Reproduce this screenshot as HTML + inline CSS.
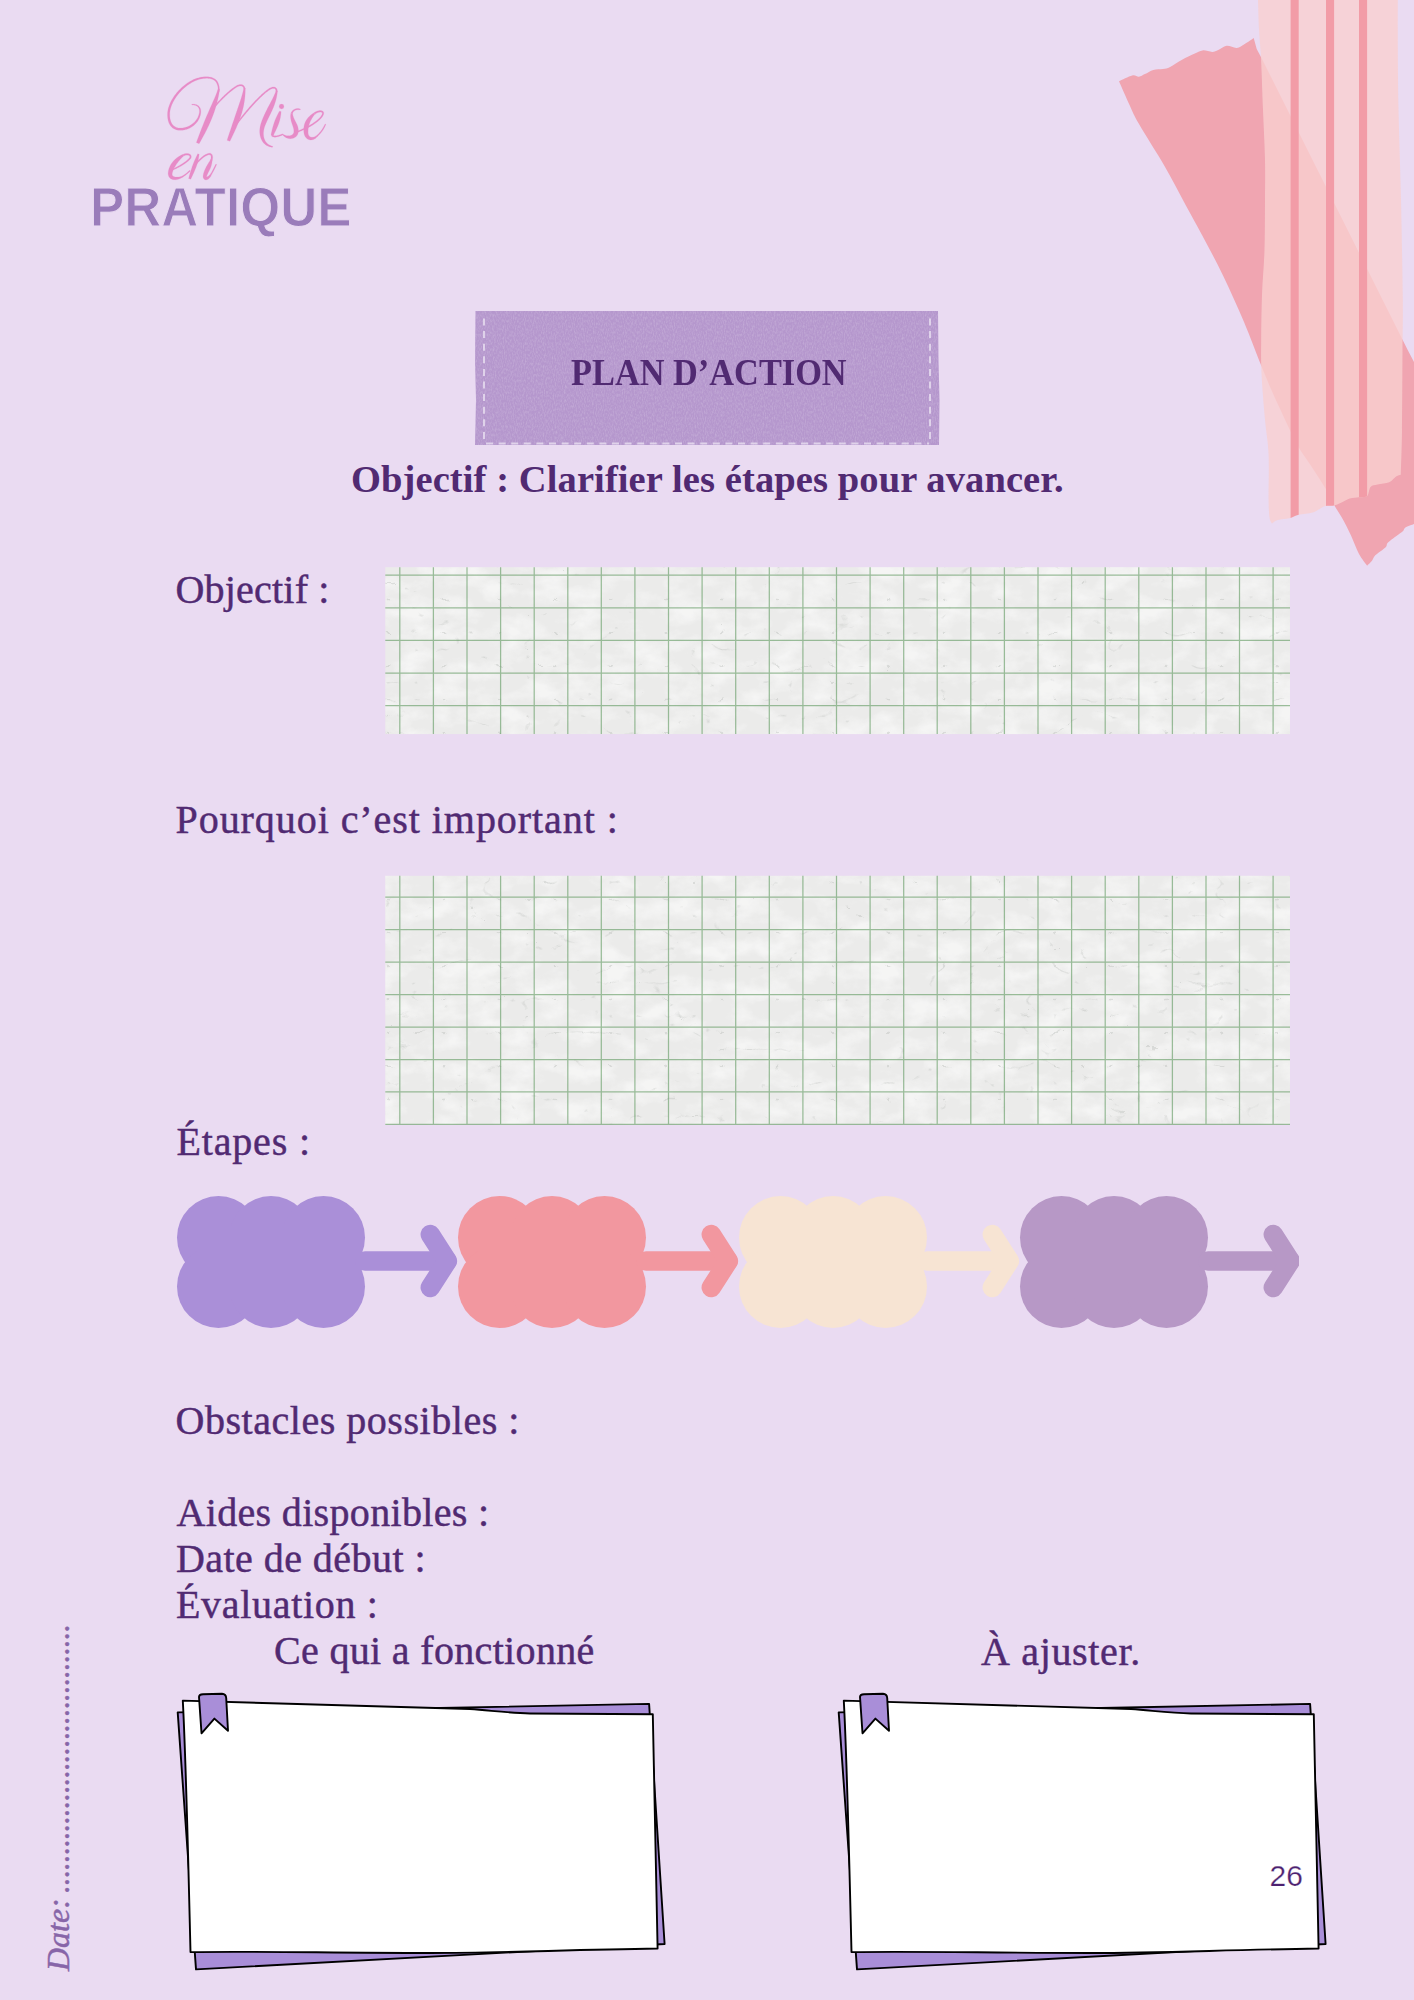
<!DOCTYPE html>
<html>
<head>
<meta charset="utf-8">
<style>
html,body{margin:0;padding:0;}
body{width:1414px;height:2000px;background:#eadbf2;position:relative;overflow:hidden;font-family:"Liberation Serif",serif;color:#512a72;}
.t{position:absolute;white-space:nowrap;line-height:1;}
.body40{font-size:40px;-webkit-text-stroke:0.45px #512a72;}
.grid{position:absolute;left:385px;width:905px;background-color:#ebebea;
 background-image:
  linear-gradient(90deg, rgba(120,180,120,0.75) 0 2px, transparent 2px),
  linear-gradient(0deg, rgba(120,180,120,0.75) 0 2px, transparent 2px);
 background-size:33.59px 32.7px;}
</style>
</head>
<body>

<!-- top-right tapes -->
<svg style="position:absolute;left:0;top:0" width="1414" height="600" viewBox="0 0 1414 600">
  <defs><clipPath id="lt"><path d="M1258.0,0.0 C1258.2,4.8 1258.5,19.3 1259.0,29.0 C1259.5,38.7 1260.3,44.5 1261.0,58.0 C1261.7,71.5 1262.3,93.0 1263.0,110.0 C1263.7,127.0 1264.7,145.0 1265.0,160.0 C1265.3,175.0 1265.1,185.0 1265.0,200.0 C1264.9,215.0 1265.0,234.2 1264.5,250.0 C1264.0,265.8 1262.5,280.0 1262.0,295.0 C1261.5,310.0 1261.3,327.0 1261.2,340.0 C1261.1,353.0 1260.9,359.7 1261.5,373.0 C1262.1,386.3 1263.8,406.0 1265.0,419.6 C1266.2,433.2 1268.0,440.9 1268.6,454.4 C1269.2,467.9 1268.4,490.2 1268.6,500.8 C1268.8,511.4 1269.1,514.4 1269.7,518.2 C1270.3,522.0 1271.6,522.5 1272.0,523.4 L1272.0,523.4 C1273.0,522.8 1274.9,520.8 1277.8,519.9 C1280.7,519.0 1285.9,519.1 1289.4,518.2 C1292.9,517.3 1294.8,515.7 1298.7,514.7 C1302.6,513.7 1309.1,513.4 1312.6,512.4 C1316.1,511.4 1317.5,510.0 1319.6,508.9 C1321.7,507.8 1323.0,506.6 1325.4,506.0 C1327.8,505.4 1331.5,506.0 1334.0,505.5 C1336.5,505.0 1337.9,504.3 1340.5,503.1 C1343.1,501.9 1346.6,499.5 1349.7,498.5 C1352.8,497.5 1356.1,497.7 1359.0,497.3 C1361.9,496.9 1365.2,497.8 1367.1,496.1 C1369.0,494.4 1368.8,488.8 1370.6,486.9 C1372.3,485.0 1374.5,485.3 1377.6,484.5 C1380.7,483.7 1386.1,483.6 1389.2,482.2 C1392.3,480.8 1394.2,477.6 1396.1,476.4 C1398.0,475.1 1400.0,475.0 1400.8,474.7 L1400.8,474.7 C1401.0,467.4 1401.7,451.8 1402.0,431.0 C1402.3,410.2 1402.4,371.8 1402.5,350.0 C1402.6,328.2 1403.0,325.0 1402.8,300.0 C1402.5,275.0 1401.7,231.7 1401.0,200.0 C1400.3,168.3 1399.0,135.0 1398.5,110.0 C1398.0,85.0 1397.9,68.3 1397.8,50.0 C1397.7,31.7 1397.8,8.3 1397.8,0.0 Z"/></clipPath></defs>
  <path d="M1119.0,81.3 C1121.2,80.3 1128.9,76.3 1132.2,75.5 C1135.5,74.7 1136.8,76.9 1138.9,76.7 C1141.0,76.5 1142.5,75.2 1144.9,74.1 C1147.3,73.0 1150.3,70.7 1153.3,69.9 C1156.3,69.1 1160.1,69.6 1162.9,69.1 C1165.7,68.6 1166.9,68.5 1170.1,66.9 C1173.3,65.3 1178.1,61.9 1182.1,59.7 C1186.1,57.5 1190.8,55.2 1194.2,53.7 C1197.6,52.2 1199.6,50.7 1202.6,50.4 C1205.6,50.1 1209.6,51.9 1212.2,51.9 C1214.8,51.9 1215.8,51.1 1218.2,50.1 C1220.6,49.1 1223.5,46.2 1226.6,45.8 C1229.7,45.4 1233.8,48.2 1236.8,47.9 C1239.8,47.6 1241.9,45.6 1244.7,44.0 C1247.5,42.4 1252.2,39.0 1253.7,38.0 L1256.7,48.9 L1261,57 L1407.7,350 L1414,362 L1414,524 L1414.0,524.0 C1412.6,524.6 1407.2,526.3 1405.4,527.5 C1403.6,528.7 1404.2,529.9 1403.1,531.0 C1401.9,532.1 1401.0,532.5 1398.5,534.4 C1396.0,536.3 1390.1,540.4 1388.0,542.5 C1385.9,544.6 1387.8,545.1 1385.7,547.2 C1383.6,549.3 1377.6,553.0 1375.3,555.3 C1373.0,557.6 1373.2,559.4 1371.8,561.1 C1370.4,562.8 1367.9,564.9 1367.1,565.7 L1367.1,565.7 C1365.8,563.8 1361.7,559.1 1359.0,554.1 C1356.3,549.1 1353.7,541.4 1351.0,535.6 C1348.3,529.8 1345.5,524.2 1342.8,519.3 C1340.1,514.4 1337.5,511.0 1334.7,506.0 C1331.9,501.0 1330.1,496.1 1326.0,489.2 C1321.9,482.3 1314.8,471.8 1310.3,464.8 C1305.8,457.8 1302.2,453.4 1298.7,447.4 C1295.2,441.4 1293.7,437.8 1289.4,428.9 C1285.2,420.0 1277.9,404.6 1273.2,394.0 C1268.5,383.4 1265.9,377.0 1261.0,365.0 C1256.1,353.0 1250.3,336.9 1244.0,322.0 C1237.7,307.1 1230.0,289.9 1223.0,275.4 C1216.0,260.9 1208.5,247.2 1202.0,235.0 C1195.5,222.8 1190.2,213.5 1184.0,202.0 C1177.8,190.5 1172.0,179.0 1164.5,166.0 C1157.0,153.0 1144.8,134.0 1139.0,124.0 C1133.2,114.0 1133.3,113.1 1130.0,106.0 C1126.7,98.9 1120.8,85.4 1119.0,81.3 Z" fill="#f0a5b1"/>
  <path d="M1258.0,0.0 C1258.2,4.8 1258.5,19.3 1259.0,29.0 C1259.5,38.7 1260.3,44.5 1261.0,58.0 C1261.7,71.5 1262.3,93.0 1263.0,110.0 C1263.7,127.0 1264.7,145.0 1265.0,160.0 C1265.3,175.0 1265.1,185.0 1265.0,200.0 C1264.9,215.0 1265.0,234.2 1264.5,250.0 C1264.0,265.8 1262.5,280.0 1262.0,295.0 C1261.5,310.0 1261.3,327.0 1261.2,340.0 C1261.1,353.0 1260.9,359.7 1261.5,373.0 C1262.1,386.3 1263.8,406.0 1265.0,419.6 C1266.2,433.2 1268.0,440.9 1268.6,454.4 C1269.2,467.9 1268.4,490.2 1268.6,500.8 C1268.8,511.4 1269.1,514.4 1269.7,518.2 C1270.3,522.0 1271.6,522.5 1272.0,523.4 L1272.0,523.4 C1273.0,522.8 1274.9,520.8 1277.8,519.9 C1280.7,519.0 1285.9,519.1 1289.4,518.2 C1292.9,517.3 1294.8,515.7 1298.7,514.7 C1302.6,513.7 1309.1,513.4 1312.6,512.4 C1316.1,511.4 1317.5,510.0 1319.6,508.9 C1321.7,507.8 1323.0,506.6 1325.4,506.0 C1327.8,505.4 1331.5,506.0 1334.0,505.5 C1336.5,505.0 1337.9,504.3 1340.5,503.1 C1343.1,501.9 1346.6,499.5 1349.7,498.5 C1352.8,497.5 1356.1,497.7 1359.0,497.3 C1361.9,496.9 1365.2,497.8 1367.1,496.1 C1369.0,494.4 1368.8,488.8 1370.6,486.9 C1372.3,485.0 1374.5,485.3 1377.6,484.5 C1380.7,483.7 1386.1,483.6 1389.2,482.2 C1392.3,480.8 1394.2,477.6 1396.1,476.4 C1398.0,475.1 1400.0,475.0 1400.8,474.7 L1400.8,474.7 C1401.0,467.4 1401.7,451.8 1402.0,431.0 C1402.3,410.2 1402.4,371.8 1402.5,350.0 C1402.6,328.2 1403.0,325.0 1402.8,300.0 C1402.5,275.0 1401.7,231.7 1401.0,200.0 C1400.3,168.3 1399.0,135.0 1398.5,110.0 C1398.0,85.0 1397.9,68.3 1397.8,50.0 C1397.7,31.7 1397.8,8.3 1397.8,0.0 Z" fill="#f9d0d0" opacity="0.8"/>
  <g clip-path="url(#lt)" fill="#f29ca7">
    <rect x="1290.6" y="0" width="8.1" height="600"/>
    <rect x="1326" y="0" width="8.1" height="600"/>
    <rect x="1359" y="0" width="8.1" height="600"/>
  </g>
</svg>

<!-- logo -->
<svg style="position:absolute;left:0;top:0" width="420" height="260" viewBox="0 0 420 260">
 <g transform="translate(160,70) scale(0.12729)" fill="#e78bc7" stroke="#e78bc7" stroke-width="1.5" stroke-linejoin="round">
  <path d="M250.2,275.0 L253.8,274.9 L257.3,274.9 L260.7,275.0 L264.0,275.3 L267.2,275.6 L270.2,276.1 L273.2,276.7 L276.0,277.4 L278.7,278.2 L281.3,279.2 L283.8,280.2 L286.2,281.3 L288.4,282.6 L290.5,283.9 L292.6,285.3 L294.5,286.8 L296.3,288.4 L297.9,290.0 L299.5,291.8 L301.0,293.6 L302.3,295.6 L303.6,297.6 L304.7,299.7 L305.7,301.9 L306.6,304.2 L307.4,306.5 L308.1,309.0 L308.7,311.5 L309.1,314.1 L309.5,316.9 L309.7,319.6 L309.8,322.5 L309.8,325.5 L309.6,328.5 L309.3,331.7 L308.9,334.9 L308.4,338.1 L307.7,341.5 L306.9,344.9 L305.9,348.5 L304.5,353.5 L302.9,358.3 L301.1,363.0 L299.1,367.6 L297.0,372.2 L294.8,376.6 L292.3,380.9 L289.8,385.1 L287.0,389.2 L284.2,393.2 L281.2,397.1 L278.1,400.9 L274.9,404.6 L271.5,408.1 L268.0,411.6 L264.5,414.9 L260.8,418.1 L257.0,421.2 L253.1,424.2 L249.2,427.1 L245.1,429.8 L241.0,432.4 L236.8,434.9 L232.6,437.2 L228.3,439.5 L223.9,441.5 L219.5,443.5 L215.0,445.3 L210.5,447.0 L206.0,448.5 L201.4,449.9 L196.9,451.2 L192.3,452.3 L187.6,453.3 L183.0,454.1 L178.4,454.8 L173.8,455.3 L169.2,455.7 L164.6,455.9 L160.0,456.0 L155.5,455.9 L151.2,455.7 L147.1,455.2 L143.0,454.7 L139.2,453.9 L135.4,453.0 L131.8,452.0 L128.3,450.8 L125.0,449.4 L121.8,447.9 L118.7,446.3 L115.7,444.6 L112.8,442.7 L110.1,440.6 L107.4,438.5 L104.9,436.1 L102.5,433.7 L100.2,431.1 L98.0,428.4 L95.8,425.5 L93.8,422.5 L91.9,419.3 L90.2,416.1 L88.5,412.6 L86.9,409.1 L85.4,405.4 L84.1,401.5 L82.8,397.6 L81.7,393.5 L80.6,389.2 L79.7,384.9 L78.9,380.4 L78.3,375.8 L77.7,371.1 L77.2,366.2 L76.9,361.3 L76.7,356.2 L76.6,351.0 L76.6,345.7 L76.8,340.4 L77.2,334.0 L77.9,327.4 L78.9,320.8 L80.2,314.0 L81.7,307.1 L83.6,300.2 L85.7,293.2 L88.1,286.1 L90.7,279.0 L93.6,271.8 L96.8,264.6 L100.2,257.3 L103.9,250.1 L107.7,242.9 L111.9,235.6 L116.2,228.4 L120.8,221.2 L125.6,214.1 L130.5,207.0 L135.7,199.9 L141.1,193.0 L146.7,186.1 L152.5,179.3 L158.4,172.6 L164.5,166.0 L170.8,159.5 L177.2,153.2 L183.8,146.9 L190.6,140.9 L197.5,135.0 L204.5,129.2 L211.7,123.6 L218.9,118.2 L226.3,113.0 L233.9,108.0 L241.5,103.3 L249.2,98.7 L257.0,94.4 L264.9,90.3 L272.9,86.4 L277.9,84.3 L283.1,82.3 L288.2,80.3 L293.4,78.5 L298.6,76.7 L303.9,75.1 L309.1,73.6 L314.3,72.3 L319.5,71.0 L324.7,69.9 L329.8,68.9 L335.0,68.0 L340.1,67.3 L345.1,66.6 L350.2,66.1 L355.1,65.8 L360.0,65.5 L364.8,65.4 L369.6,65.5 L374.3,65.6 L378.8,65.9 L383.3,66.4 L387.7,67.0 L392.0,67.7 L396.2,68.5 L400.3,69.5 L404.2,70.6 L408.0,71.9 L411.7,73.3 L415.3,74.8 L418.7,76.5 L421.9,78.3 L425.0,80.3 L427.9,82.3 L430.7,84.6 L433.4,86.9 L435.8,89.5 L438.1,92.1 L440.2,94.9 L442.2,97.9 L443.1,99.6 L444.2,101.6 L445.1,103.5 L446.0,105.4 L446.9,107.3 L447.7,109.3 L448.5,111.2 L449.2,113.1 L449.9,115.0 L450.6,117.0 L451.2,118.9 L451.8,120.8 L452.3,122.7 L452.8,124.6 L453.3,126.5 L453.7,128.4 L454.1,130.3 L454.4,132.1 L454.7,134.0 L455.0,135.8 L455.3,137.7 L455.5,139.5 L455.7,141.3 L455.8,143.1 L456.0,144.9 L456.1,146.7 L456.1,148.4 L456.2,150.1 L456.2,151.9 L456.2,153.6 L456.2,155.2 L456.1,156.9 L456.1,158.5 L456.0,160.1 L455.9,161.7 L455.7,163.3 L455.6,164.8 L455.4,166.3 L455.3,167.8 L455.1,169.3 L464.9,170.7 L465.2,169.2 L465.4,167.6 L465.6,165.9 L465.8,164.3 L466.0,162.6 L466.1,160.8 L466.2,159.1 L466.3,157.3 L466.4,155.5 L466.5,153.7 L466.5,151.9 L466.5,150.0 L466.5,148.1 L466.4,146.2 L466.4,144.3 L466.2,142.4 L466.1,140.4 L465.9,138.4 L465.7,136.4 L465.5,134.4 L465.2,132.4 L464.9,130.3 L464.5,128.3 L464.2,126.2 L463.7,124.2 L463.3,122.1 L462.8,120.0 L462.2,117.9 L461.6,115.8 L461.0,113.6 L460.3,111.5 L459.6,109.4 L458.8,107.2 L457.9,105.1 L457.1,103.0 L456.1,100.8 L455.2,98.7 L454.1,96.5 L453.1,94.4 L451.8,92.1 L449.5,88.5 L447.0,85.1 L444.3,81.8 L441.4,78.7 L438.3,75.8 L435.0,73.1 L431.6,70.6 L428.0,68.3 L424.2,66.1 L420.3,64.1 L416.3,62.3 L412.1,60.6 L407.9,59.1 L403.5,57.8 L399.0,56.6 L394.3,55.6 L389.6,54.8 L384.8,54.1 L380.0,53.5 L375.0,53.1 L369.9,52.9 L364.8,52.7 L359.7,52.8 L354.4,52.9 L349.1,53.3 L343.8,53.7 L338.4,54.3 L333.0,55.0 L327.6,55.8 L322.1,56.8 L316.6,57.9 L311.1,59.2 L305.6,60.5 L300.1,62.0 L294.6,63.6 L289.0,65.4 L283.6,67.2 L278.1,69.2 L272.6,71.3 L267.1,73.6 L258.7,77.5 L250.3,81.7 L242.1,86.1 L234.0,90.7 L225.9,95.6 L218.0,100.7 L210.3,106.0 L202.6,111.6 L195.1,117.3 L187.7,123.2 L180.5,129.2 L173.4,135.5 L166.5,141.8 L159.7,148.4 L153.1,155.0 L146.7,161.8 L140.4,168.7 L134.3,175.7 L128.4,182.8 L122.8,190.1 L117.3,197.3 L112.0,204.7 L106.9,212.1 L102.1,219.6 L97.5,227.1 L93.1,234.7 L88.9,242.2 L85.0,249.9 L81.3,257.5 L77.9,265.1 L74.8,272.7 L71.9,280.3 L69.3,287.9 L67.0,295.4 L64.9,302.9 L63.2,310.4 L61.7,317.8 L60.6,325.1 L59.7,332.4 L59.2,339.6 L59.1,345.4 L59.0,351.1 L59.1,356.7 L59.3,362.2 L59.6,367.6 L60.1,372.9 L60.7,378.1 L61.4,383.2 L62.3,388.2 L63.3,393.1 L64.4,397.9 L65.7,402.6 L67.1,407.2 L68.7,411.6 L70.4,416.0 L72.3,420.2 L74.3,424.3 L76.4,428.2 L78.7,432.1 L81.2,435.7 L83.8,439.3 L86.5,442.7 L89.4,446.0 L92.4,449.1 L95.6,452.0 L99.0,454.8 L102.5,457.4 L106.1,459.8 L109.9,462.0 L113.8,464.1 L117.9,466.0 L122.0,467.6 L126.4,469.1 L130.8,470.4 L135.4,471.5 L140.1,472.4 L144.9,473.1 L149.8,473.6 L154.8,473.9 L160.0,474.0 L165.2,473.9 L170.4,473.6 L175.6,473.2 L180.8,472.5 L186.0,471.7 L191.1,470.8 L196.3,469.6 L201.4,468.3 L206.5,466.8 L211.6,465.2 L216.6,463.4 L221.5,461.5 L226.4,459.4 L231.3,457.1 L236.1,454.7 L240.8,452.1 L245.4,449.4 L250.0,446.6 L254.4,443.6 L258.8,440.4 L263.1,437.2 L267.3,433.7 L271.3,430.2 L275.3,426.5 L279.1,422.7 L282.8,418.8 L286.4,414.7 L289.8,410.5 L293.1,406.2 L296.2,401.8 L299.2,397.2 L302.0,392.6 L304.7,387.8 L307.2,382.9 L309.5,377.9 L311.6,372.8 L313.5,367.6 L315.2,362.3 L316.8,357.0 L318.1,351.5 L318.9,347.6 L319.6,343.8 L320.2,340.0 L320.6,336.3 L320.9,332.6 L321.0,329.0 L321.0,325.5 L320.9,322.1 L320.6,318.7 L320.2,315.5 L319.6,312.3 L318.9,309.2 L318.1,306.2 L317.1,303.2 L315.9,300.4 L314.7,297.7 L313.3,295.1 L311.7,292.6 L310.1,290.1 L308.3,287.9 L306.4,285.7 L304.3,283.6 L302.2,281.7 L299.9,279.9 L297.5,278.2 L295.0,276.6 L292.4,275.2 L289.6,273.9 L286.8,272.8 L283.9,271.8 L280.9,270.9 L277.8,270.1 L274.6,269.5 L271.3,269.0 L267.9,268.7 L264.5,268.5 L260.9,268.4 L257.3,268.5 L253.6,268.7 L249.8,269.0Z"/>
  <path d="M456.1,148.8 L453.5,156.9 L450.7,165.3 L447.5,174.0 L444.2,183.0 L440.6,192.2 L436.8,201.7 L432.8,211.3 L428.6,221.2 L424.3,231.3 L419.8,241.6 L415.2,252.1 L410.5,262.7 L405.7,273.5 L400.8,284.5 L395.9,295.5 L390.9,306.7 L385.9,318.0 L380.9,329.4 L375.9,340.9 L370.9,352.4 L365.9,364.0 L361.0,375.6 L356.1,387.2 L351.3,398.8 L346.6,410.4 L341.9,422.0 L337.3,433.5 L332.7,445.0 L328.3,456.4 L323.9,467.6 L319.6,478.8 L315.4,489.7 L311.3,500.6 L307.3,511.2 L303.3,521.6 L299.5,531.8 L295.8,541.8 L292.1,551.4 L288.6,560.8 L285.1,569.9 L306.9,580.1 L311.7,571.6 L316.6,562.8 L321.7,553.8 L326.8,544.4 L332.1,534.8 L337.5,525.0 L342.9,514.9 L348.4,504.7 L353.9,494.2 L359.4,483.5 L364.8,472.6 L370.3,461.6 L375.7,450.4 L381.1,439.0 L386.3,427.6 L391.5,416.0 L396.6,404.3 L401.6,392.6 L406.4,380.7 L411.1,368.9 L415.7,357.0 L420.1,345.1 L424.3,333.1 L428.3,321.3 L432.2,309.4 L435.9,297.7 L439.5,286.0 L442.8,274.4 L446.0,262.9 L448.9,251.6 L451.7,240.5 L454.3,229.6 L456.7,218.8 L458.9,208.3 L460.9,198.1 L462.7,188.1 L464.3,178.4 L465.7,169.0 L466.9,159.9 L467.9,151.2Z"/>
  <path d="M413.5,314.8 L418.1,309.1 L422.8,303.3 L427.6,297.6 L432.5,291.8 L437.4,286.0 L442.5,280.2 L447.6,274.5 L452.8,268.7 L458.0,263.0 L463.3,257.3 L468.6,251.6 L474.0,246.0 L479.4,240.4 L484.8,234.8 L490.3,229.4 L495.7,223.9 L501.2,218.6 L506.6,213.3 L512.1,208.1 L517.5,203.0 L522.9,198.0 L528.3,193.1 L533.6,188.3 L538.9,183.6 L544.2,179.0 L549.4,174.6 L554.5,170.3 L559.6,166.2 L564.6,162.2 L569.5,158.3 L574.3,154.7 L579.1,151.2 L583.7,147.8 L588.2,144.7 L592.6,141.7 L596.9,139.0 L601.0,136.4 L605.0,134.1 L608.9,132.0 L612.5,130.1 L614.4,129.4 L616.4,128.6 L618.4,127.9 L620.4,127.3 L622.3,126.7 L624.1,126.3 L625.9,125.9 L627.6,125.6 L629.3,125.4 L631.0,125.2 L632.5,125.2 L634.1,125.2 L635.5,125.2 L636.9,125.4 L638.3,125.6 L639.6,125.8 L640.8,126.1 L642.0,126.5 L643.2,126.9 L644.2,127.4 L645.3,128.0 L646.3,128.6 L647.3,129.2 L648.2,129.9 L649.1,130.7 L650.0,131.5 L650.8,132.5 L651.6,133.4 L652.3,134.5 L653.1,135.6 L653.8,136.8 L654.4,138.0 L655.0,139.4 L655.6,140.8 L656.1,142.3 L656.6,143.8 L657.0,145.5 L657.4,147.2 L657.8,149.0 L658.1,150.9 L669.9,149.1 L669.6,146.9 L669.1,144.7 L668.6,142.5 L668.0,140.5 L667.4,138.4 L666.7,136.5 L665.9,134.6 L665.0,132.8 L664.1,131.0 L663.1,129.3 L662.0,127.7 L660.9,126.2 L659.7,124.7 L658.4,123.3 L657.0,122.0 L655.6,120.8 L654.1,119.7 L652.5,118.6 L650.9,117.7 L649.3,116.8 L647.5,116.1 L645.7,115.4 L643.9,114.9 L642.1,114.4 L640.2,114.1 L638.2,113.8 L636.2,113.7 L634.2,113.6 L632.2,113.6 L630.1,113.7 L628.0,113.9 L625.9,114.2 L623.7,114.6 L621.5,115.1 L619.3,115.6 L617.0,116.3 L614.8,117.0 L612.4,117.9 L610.1,118.8 L607.5,119.9 L603.5,122.0 L599.4,124.3 L595.2,126.8 L590.9,129.5 L586.4,132.4 L581.9,135.5 L577.2,138.7 L572.5,142.2 L567.6,145.8 L562.7,149.5 L557.7,153.5 L552.6,157.6 L547.5,161.8 L542.2,166.2 L537.0,170.7 L531.7,175.3 L526.3,180.1 L520.9,184.9 L515.5,189.9 L510.0,195.0 L504.5,200.2 L499.1,205.5 L493.6,210.8 L488.1,216.3 L482.7,221.8 L477.2,227.4 L471.8,233.1 L466.4,238.8 L461.1,244.5 L455.8,250.3 L450.5,256.2 L445.3,262.0 L440.2,267.9 L435.1,273.8 L430.1,279.7 L425.2,285.7 L420.3,291.6 L415.6,297.5 L411.0,303.4 L406.5,309.2Z"/>
  <path d="M658.0,144.4 L655.7,155.1 L653.2,165.8 L650.5,176.4 L647.6,187.1 L644.6,197.8 L641.4,208.5 L638.2,219.2 L634.8,230.0 L631.4,240.7 L627.9,251.4 L624.3,262.1 L620.7,272.9 L617.1,283.6 L613.4,294.3 L609.7,305.0 L606.1,315.7 L602.4,326.4 L598.8,337.1 L595.2,347.7 L591.7,358.3 L588.1,368.9 L584.5,379.4 L581.0,389.9 L577.5,400.3 L573.9,410.6 L570.5,420.9 L567.0,431.0 L563.6,441.1 L560.2,451.1 L556.9,460.9 L553.6,470.7 L550.4,480.3 L547.2,489.8 L544.1,499.1 L541.1,508.3 L538.1,517.3 L535.1,526.1 L532.3,534.8 L529.5,543.3 L526.8,551.6 L549.2,560.4 L552.9,552.6 L556.7,544.6 L560.6,536.4 L564.6,528.0 L568.7,519.4 L572.9,510.7 L577.1,501.7 L581.4,492.7 L585.7,483.4 L590.0,474.0 L594.3,464.4 L598.6,454.7 L602.9,444.8 L607.1,434.8 L611.3,424.6 L615.5,414.3 L619.6,403.9 L623.6,393.3 L627.5,382.7 L631.3,371.9 L635.1,361.1 L638.6,350.1 L642.1,339.0 L645.3,327.9 L648.4,316.6 L651.2,305.3 L653.9,293.9 L656.4,282.5 L658.7,271.1 L660.8,259.6 L662.6,248.0 L664.3,236.5 L665.7,225.0 L667.0,213.5 L668.0,202.1 L668.8,190.6 L669.4,179.3 L669.8,168.0 L670.0,156.7 L670.0,145.6Z"/>
  <path d="M593.6,442.7 L600.4,433.8 L607.3,424.8 L614.3,415.8 L621.3,406.9 L628.4,397.9 L635.5,389.0 L642.7,380.1 L649.9,371.3 L657.1,362.4 L664.3,353.7 L671.6,345.0 L678.8,336.3 L686.1,327.8 L693.4,319.3 L700.6,310.9 L707.9,302.6 L715.1,294.4 L722.3,286.4 L729.4,278.4 L736.6,270.6 L743.6,262.9 L750.7,255.4 L757.7,248.0 L764.6,240.8 L771.5,233.8 L778.3,226.9 L785.0,220.3 L791.7,213.8 L798.2,207.5 L804.7,201.5 L811.1,195.7 L817.4,190.1 L823.6,184.8 L829.6,179.7 L835.5,174.9 L841.3,170.3 L847.0,166.0 L852.5,162.0 L857.9,158.3 L863.1,154.9 L865.3,153.6 L867.8,152.3 L870.1,151.2 L872.4,150.1 L874.7,149.1 L876.8,148.3 L878.9,147.5 L880.9,146.9 L882.8,146.3 L884.7,145.9 L886.5,145.5 L888.2,145.2 L889.8,145.1 L891.3,145.0 L892.8,145.0 L894.2,145.0 L895.4,145.2 L896.7,145.4 L897.8,145.7 L898.9,146.0 L899.9,146.4 L900.8,146.9 L901.7,147.5 L902.6,148.1 L903.4,148.7 L904.2,149.5 L904.9,150.3 L905.6,151.3 L906.3,152.3 L907.0,153.4 L907.6,154.6 L908.2,156.0 L908.7,157.4 L909.2,158.9 L909.6,160.6 L910.0,162.3 L910.3,164.2 L910.6,166.1 L910.9,168.2 L911.0,170.5 L923.0,169.5 L922.8,167.1 L922.5,164.6 L922.1,162.2 L921.7,159.9 L921.2,157.7 L920.6,155.5 L919.9,153.5 L919.2,151.5 L918.3,149.5 L917.4,147.7 L916.3,146.0 L915.2,144.3 L914.0,142.7 L912.7,141.3 L911.2,139.9 L909.7,138.7 L908.1,137.6 L906.5,136.6 L904.7,135.7 L902.9,135.0 L901.0,134.4 L899.1,133.9 L897.1,133.6 L895.1,133.3 L893.0,133.2 L890.9,133.3 L888.7,133.4 L886.6,133.7 L884.3,134.0 L882.1,134.5 L879.8,135.1 L877.5,135.8 L875.1,136.6 L872.6,137.5 L870.2,138.5 L867.7,139.6 L865.1,140.8 L862.5,142.1 L859.8,143.5 L856.9,145.1 L851.5,148.8 L845.9,152.7 L840.2,156.9 L834.4,161.3 L828.4,166.1 L822.4,171.0 L816.2,176.2 L810.0,181.7 L803.6,187.4 L797.2,193.3 L790.6,199.5 L784.0,205.8 L777.3,212.4 L770.5,219.1 L763.6,226.0 L756.7,233.1 L749.7,240.4 L742.7,247.8 L735.6,255.4 L728.4,263.2 L721.3,271.0 L714.1,279.1 L706.9,287.2 L699.7,295.5 L692.4,303.8 L685.2,312.3 L678.0,320.9 L670.7,329.6 L663.5,338.3 L656.3,347.1 L649.1,356.0 L642.0,364.9 L634.9,373.9 L627.8,382.9 L620.7,391.9 L613.8,401.0 L606.8,410.1 L599.9,419.2 L593.1,428.2 L586.4,437.3Z"/>
  <path d="M911.1,163.7 L908.4,171.3 L905.6,178.7 L902.6,186.1 L899.5,193.4 L896.3,200.6 L893.0,207.8 L889.6,215.0 L886.1,222.1 L882.5,229.2 L878.9,236.2 L875.2,243.3 L871.5,250.3 L867.8,257.3 L864.1,264.3 L860.4,271.3 L856.7,278.3 L853.0,285.3 L849.3,292.3 L845.7,299.3 L842.1,306.3 L838.6,313.4 L835.1,320.4 L831.7,327.5 L828.3,334.5 L825.0,341.5 L821.7,348.5 L818.5,355.6 L815.4,362.6 L812.3,369.5 L809.3,376.5 L806.5,383.5 L803.7,390.5 L801.1,397.4 L798.5,404.4 L796.1,411.3 L793.9,418.2 L791.8,425.1 L789.9,432.0 L788.1,438.9 L786.5,446.0 L785.4,452.8 L784.5,459.2 L783.9,465.6 L783.4,471.9 L783.2,478.2 L783.2,484.3 L783.4,490.4 L783.8,496.3 L784.4,502.2 L785.2,507.9 L786.2,513.6 L787.4,519.1 L788.7,524.5 L790.3,529.8 L792.0,535.0 L794.0,540.0 L796.1,544.8 L798.3,549.6 L800.8,554.2 L803.4,558.6 L806.2,562.9 L809.1,566.9 L812.2,570.9 L815.5,574.6 L818.9,578.2 L822.4,581.6 L826.1,584.8 L829.9,587.7 L833.9,590.5 L837.9,593.1 L842.1,595.5 L846.4,597.7 L850.9,599.6 L855.4,601.3 L860.0,602.8 L864.7,604.1 L869.6,605.2 L874.5,606.0 L879.4,606.6 L884.4,607.0 L885.6,599.0 L880.9,598.0 L876.5,596.7 L872.2,595.3 L868.1,593.7 L864.1,592.0 L860.3,590.1 L856.6,588.0 L853.1,585.7 L849.7,583.3 L846.5,580.8 L843.5,578.1 L840.5,575.3 L837.7,572.4 L835.1,569.3 L832.6,566.1 L830.3,562.8 L828.1,559.4 L826.0,555.9 L824.1,552.2 L822.4,548.4 L820.7,544.5 L819.3,540.5 L817.9,536.4 L816.8,532.3 L815.8,528.0 L814.9,523.6 L814.2,519.1 L813.6,514.5 L813.2,509.9 L813.0,505.1 L812.9,500.3 L813.0,495.4 L813.2,490.4 L813.6,485.4 L814.2,480.3 L814.9,475.1 L815.8,469.8 L816.9,464.5 L818.1,459.1 L819.5,454.0 L821.3,448.3 L823.4,442.3 L825.6,436.3 L828.0,430.2 L830.5,424.0 L833.1,417.8 L835.8,411.5 L838.7,405.1 L841.6,398.7 L844.7,392.2 L847.8,385.7 L851.0,379.0 L854.2,372.4 L857.5,365.6 L860.9,358.8 L864.3,351.9 L867.7,344.9 L871.1,337.9 L874.5,330.8 L877.9,323.7 L881.2,316.4 L884.4,309.0 L887.6,301.6 L890.7,294.1 L893.7,286.5 L896.6,278.8 L899.4,271.1 L902.1,263.3 L904.7,255.4 L907.1,247.5 L909.4,239.5 L911.6,231.5 L913.6,223.4 L915.4,215.3 L917.1,207.2 L918.6,199.0 L919.9,190.9 L921.1,182.7 L922.1,174.4 L922.9,166.3Z"/>
  <path d="M938.3,323.1 L935.8,328.0 L933.3,332.9 L930.7,337.7 L928.2,342.6 L925.8,347.4 L923.3,352.2 L920.9,357.0 L918.5,361.9 L916.2,366.6 L913.9,371.4 L911.7,376.2 L909.5,381.0 L907.5,385.8 L905.5,390.7 L903.6,395.5 L901.7,400.3 L900.0,405.1 L898.3,410.0 L896.6,414.8 L895.0,419.6 L893.5,424.4 L891.9,429.2 L890.5,434.0 L889.0,438.8 L887.7,443.5 L886.3,448.3 L885.0,453.0 L883.8,457.7 L882.5,462.4 L881.4,467.1 L880.2,471.7 L879.1,476.3 L878.0,480.9 L877.0,485.5 L876.0,490.0 L875.0,494.5 L874.1,499.0 L873.2,503.4 L872.3,507.8 L871.5,512.2 L888.5,517.8 L890.4,513.9 L892.4,509.9 L894.3,505.9 L896.3,501.9 L898.3,497.8 L900.3,493.7 L902.3,489.5 L904.4,485.3 L906.5,481.1 L908.5,476.8 L910.6,472.5 L912.6,468.2 L914.7,463.8 L916.7,459.3 L918.7,454.8 L920.7,450.3 L922.7,445.7 L924.7,441.1 L926.6,436.4 L928.5,431.7 L930.3,426.9 L932.1,422.1 L933.9,417.2 L935.6,412.3 L937.2,407.3 L938.7,402.2 L940.2,397.1 L941.5,392.0 L942.8,386.8 L944.0,381.5 L945.1,376.2 L946.1,370.9 L947.0,365.5 L947.9,360.1 L948.7,354.6 L949.4,349.1 L950.0,343.6 L950.6,338.0 L951.2,332.5 L951.7,326.9Z"/>
  <path d="M876.5,519.9 L878.2,521.0 L880.1,522.1 L881.9,523.1 L883.9,524.0 L885.8,524.8 L887.8,525.4 L889.8,526.0 L891.9,526.5 L893.9,526.9 L896.0,527.2 L898.1,527.4 L900.2,527.6 L902.3,527.6 L904.5,527.6 L906.6,527.5 L908.8,527.4 L911.0,527.2 L913.2,526.9 L915.5,526.6 L917.7,526.2 L920.0,525.8 L922.3,525.3 L924.6,524.7 L927.0,524.2 L929.3,523.5 L931.7,522.8 L934.1,522.1 L936.5,521.3 L938.9,520.5 L941.4,519.6 L943.8,518.7 L946.3,517.8 L948.8,516.8 L951.3,515.8 L953.9,514.7 L956.4,513.7 L959.0,512.6 L961.6,511.5 L964.2,510.3 L966.8,509.1 L963.2,500.9 L960.6,501.9 L958.0,503.0 L955.4,504.0 L952.9,505.0 L950.4,506.0 L947.9,506.9 L945.4,507.8 L943.0,508.7 L940.5,509.5 L938.1,510.4 L935.8,511.2 L933.5,511.9 L931.2,512.6 L928.9,513.3 L926.7,513.9 L924.5,514.5 L922.3,515.0 L920.2,515.5 L918.1,515.9 L916.0,516.3 L914.0,516.6 L912.0,516.9 L910.1,517.0 L908.1,517.2 L906.3,517.2 L904.5,517.2 L902.7,517.1 L900.9,517.0 L899.3,516.8 L897.6,516.5 L896.0,516.2 L894.5,515.8 L893.0,515.3 L891.5,514.8 L890.1,514.2 L888.7,513.6 L887.4,512.8 L886.1,512.0 L884.8,511.2 L883.5,510.1Z"/>
  <path d="M1103.1,306.1 L1101.0,305.5 L1098.9,304.9 L1096.7,304.3 L1094.5,303.9 L1092.3,303.5 L1090.1,303.2 L1088.0,302.9 L1085.8,302.8 L1083.6,302.7 L1081.4,302.7 L1079.2,302.7 L1077.0,302.9 L1074.8,303.1 L1072.7,303.4 L1070.6,303.8 L1068.4,304.2 L1066.3,304.8 L1064.3,305.4 L1062.2,306.1 L1060.2,306.9 L1058.2,307.7 L1056.3,308.7 L1054.4,309.6 L1052.5,310.7 L1050.6,311.8 L1048.8,313.0 L1047.0,314.3 L1045.3,315.6 L1043.6,317.0 L1041.9,318.5 L1040.3,320.1 L1038.7,321.7 L1037.2,323.4 L1035.8,325.2 L1034.4,327.1 L1033.1,329.0 L1031.8,331.1 L1030.6,333.2 L1029.5,335.4 L1028.5,337.5 L1041.5,342.5 L1042.1,340.5 L1042.7,338.7 L1043.4,337.0 L1044.1,335.3 L1044.9,333.6 L1045.8,332.0 L1046.7,330.5 L1047.7,329.0 L1048.7,327.6 L1049.9,326.3 L1051.0,325.0 L1052.3,323.7 L1053.6,322.5 L1054.9,321.4 L1056.3,320.4 L1057.8,319.4 L1059.3,318.5 L1060.8,317.6 L1062.4,316.8 L1064.0,316.1 L1065.7,315.5 L1067.4,314.9 L1069.1,314.3 L1070.8,313.8 L1072.6,313.4 L1074.4,313.0 L1076.2,312.7 L1078.0,312.5 L1079.9,312.2 L1081.7,312.1 L1083.6,312.0 L1085.5,312.0 L1087.4,312.0 L1089.3,312.1 L1091.2,312.2 L1093.1,312.4 L1095.1,312.7 L1097.0,313.0 L1098.9,313.4 L1100.9,313.9Z"/>
  <path d="M1028.0,339.6 L1027.1,344.1 L1026.4,348.9 L1025.9,353.5 L1025.6,358.2 L1025.5,362.8 L1025.6,367.3 L1025.8,371.9 L1026.2,376.3 L1026.7,380.8 L1027.4,385.1 L1028.2,389.4 L1029.0,393.7 L1030.0,397.9 L1031.0,402.0 L1032.2,406.1 L1033.3,410.0 L1034.5,414.0 L1035.8,417.8 L1037.0,421.6 L1038.3,425.4 L1039.5,429.0 L1040.8,432.6 L1042.0,436.2 L1043.1,439.6 L1044.3,443.0 L1045.3,446.4 L1046.3,449.6 L1047.3,452.9 L1048.1,456.0 L1048.9,459.1 L1049.6,462.2 L1050.2,465.2 L1050.7,468.1 L1051.1,471.1 L1051.4,474.0 L1051.6,476.9 L1051.6,479.8 L1051.6,482.7 L1051.4,485.7 L1051.1,488.4 L1050.8,490.1 L1050.3,492.1 L1049.7,493.9 L1049.0,495.6 L1048.3,497.2 L1047.4,498.8 L1046.4,500.4 L1045.3,501.9 L1044.1,503.3 L1042.7,504.7 L1041.3,506.0 L1039.7,507.3 L1038.0,508.6 L1036.1,509.7 L1034.2,510.8 L1032.1,511.9 L1030.0,512.8 L1027.7,513.7 L1025.4,514.5 L1023.0,515.2 L1020.5,515.8 L1017.9,516.3 L1015.3,516.7 L1012.6,517.0 L1009.9,517.1 L1007.2,517.2 L1004.5,517.2 L1001.7,517.0 L999.0,516.7 L996.2,516.3 L993.5,515.8 L990.8,515.1 L988.1,514.4 L985.5,513.5 L982.9,512.5 L980.4,511.3 L977.9,510.0 L975.5,508.6 L973.2,507.0 L970.9,505.2 L965.1,510.8 L967.0,513.3 L969.1,515.9 L971.4,518.4 L973.8,520.7 L976.4,522.9 L979.1,525.0 L981.9,527.0 L984.8,528.8 L987.9,530.5 L991.0,532.1 L994.2,533.5 L997.5,534.8 L1000.9,535.9 L1004.3,536.9 L1007.8,537.8 L1011.3,538.5 L1014.9,539.0 L1018.5,539.3 L1022.2,539.5 L1025.8,539.6 L1029.4,539.4 L1033.1,539.1 L1036.7,538.5 L1040.4,537.8 L1044.0,536.9 L1047.5,535.8 L1051.1,534.4 L1054.5,532.9 L1057.9,531.1 L1061.2,529.0 L1064.4,526.8 L1067.4,524.3 L1070.3,521.5 L1073.1,518.5 L1075.6,515.3 L1078.0,511.8 L1080.1,508.1 L1081.9,504.3 L1083.5,500.2 L1084.9,495.6 L1085.9,490.5 L1086.6,485.8 L1087.0,481.2 L1087.2,476.6 L1087.1,472.0 L1086.8,467.5 L1086.3,463.1 L1085.6,458.8 L1084.8,454.5 L1083.8,450.4 L1082.7,446.3 L1081.4,442.3 L1080.0,438.4 L1078.6,434.5 L1077.0,430.7 L1075.4,427.0 L1073.7,423.3 L1072.0,419.7 L1070.3,416.2 L1068.5,412.6 L1066.7,409.1 L1064.9,405.7 L1063.1,402.3 L1061.4,398.8 L1059.6,395.4 L1057.9,392.1 L1056.2,388.7 L1054.6,385.2 L1053.0,381.8 L1051.5,378.4 L1050.1,374.9 L1048.7,371.4 L1047.5,367.8 L1046.3,364.2 L1045.3,360.5 L1044.3,356.7 L1043.5,352.8 L1042.8,348.9 L1042.3,344.8 L1042.0,340.4Z"/>
  <path d="M1069.7,494.7 L1071.8,493.9 L1073.8,493.2 L1075.8,492.4 L1077.7,491.7 L1079.6,490.9 L1081.5,490.2 L1083.4,489.4 L1085.3,488.7 L1087.1,487.9 L1089.0,487.2 L1090.8,486.4 L1092.5,485.7 L1094.3,484.9 L1096.0,484.2 L1097.8,483.5 L1099.5,482.7 L1101.2,482.0 L1102.8,481.3 L1104.5,480.5 L1106.1,479.8 L1107.8,479.1 L1109.4,478.4 L1111.0,477.7 L1112.6,477.0 L1114.1,476.3 L1115.7,475.6 L1117.3,474.9 L1118.8,474.3 L1120.4,473.6 L1121.9,472.9 L1123.4,472.3 L1124.9,471.6 L1126.4,471.0 L1127.9,470.3 L1129.4,469.7 L1130.9,469.1 L1132.4,468.5 L1133.9,467.8 L1135.4,467.2 L1136.9,466.6 L1133.1,457.4 L1131.6,458.0 L1130.1,458.6 L1128.6,459.2 L1127.1,459.8 L1125.5,460.5 L1124.0,461.1 L1122.5,461.8 L1121.0,462.4 L1119.4,463.1 L1117.9,463.8 L1116.4,464.4 L1114.8,465.1 L1113.3,465.8 L1111.7,466.5 L1110.1,467.2 L1108.5,467.9 L1107.0,468.6 L1105.4,469.3 L1103.7,470.0 L1102.1,470.7 L1100.5,471.4 L1098.8,472.1 L1097.2,472.8 L1095.5,473.5 L1093.8,474.3 L1092.1,475.0 L1090.4,475.7 L1088.7,476.4 L1086.9,477.2 L1085.1,477.9 L1083.3,478.6 L1081.5,479.4 L1079.7,480.1 L1077.9,480.9 L1076.0,481.6 L1074.1,482.3 L1072.2,483.1 L1070.2,483.8 L1068.3,484.6 L1066.3,485.3Z"/>
  <path d="M1137.2,466.5 L1142.5,463.9 L1147.7,461.3 L1153.0,458.7 L1158.2,456.0 L1163.4,453.3 L1168.5,450.5 L1173.6,447.7 L1178.6,444.9 L1183.6,442.0 L1188.5,439.1 L1193.4,436.2 L1198.1,433.3 L1202.9,430.3 L1207.5,427.3 L1212.0,424.3 L1216.5,421.2 L1220.9,418.2 L1225.1,415.1 L1229.3,412.0 L1233.4,409.0 L1237.3,405.8 L1241.1,402.7 L1244.9,399.6 L1248.5,396.5 L1251.9,393.4 L1255.2,390.2 L1258.4,387.1 L1261.5,384.0 L1264.4,380.8 L1267.2,377.7 L1269.8,374.6 L1272.2,371.5 L1274.5,368.3 L1276.7,365.2 L1278.6,362.1 L1280.4,359.0 L1282.0,355.9 L1283.4,352.8 L1284.6,349.6 L1285.6,346.4 L1286.1,343.8 L1286.4,341.3 L1286.5,338.9 L1286.3,336.5 L1285.9,334.2 L1285.2,332.0 L1284.3,329.9 L1283.1,328.0 L1281.7,326.3 L1280.2,324.7 L1278.4,323.4 L1276.6,322.2 L1274.6,321.2 L1272.6,320.4 L1270.5,319.7 L1268.3,319.2 L1266.1,318.8 L1263.8,318.5 L1261.4,318.4 L1259.0,318.3 L1256.6,318.4 L1254.1,318.6 L1251.5,318.8 L1249.0,319.2 L1246.4,319.7 L1243.7,320.2 L1241.1,320.9 L1238.4,321.6 L1235.7,322.5 L1233.1,323.4 L1230.4,324.4 L1227.8,325.6 L1225.1,326.8 L1222.5,328.0 L1219.9,329.4 L1217.3,330.9 L1214.8,332.4 L1212.3,334.1 L1209.9,335.8 L1207.7,337.5 L1216.3,348.5 L1218.4,346.8 L1220.3,345.3 L1222.4,343.9 L1224.5,342.5 L1226.6,341.2 L1228.8,339.9 L1231.0,338.7 L1233.2,337.6 L1235.5,336.6 L1237.8,335.6 L1240.0,334.8 L1242.3,334.0 L1244.6,333.3 L1246.8,332.6 L1249.0,332.1 L1251.1,331.6 L1253.3,331.3 L1255.3,331.0 L1257.3,330.8 L1259.2,330.7 L1261.1,330.7 L1262.8,330.7 L1264.5,330.9 L1266.0,331.1 L1267.4,331.4 L1268.7,331.8 L1269.8,332.2 L1270.8,332.7 L1271.6,333.2 L1272.4,333.7 L1273.0,334.3 L1273.5,334.9 L1273.9,335.5 L1274.3,336.3 L1274.6,337.1 L1274.8,338.1 L1274.9,339.2 L1274.9,340.5 L1274.7,342.0 L1274.4,343.6 L1273.7,346.0 L1272.8,348.5 L1271.7,351.1 L1270.4,353.7 L1268.9,356.4 L1267.3,359.1 L1265.4,361.9 L1263.4,364.8 L1261.1,367.6 L1258.8,370.5 L1256.2,373.4 L1253.5,376.4 L1250.6,379.3 L1247.6,382.3 L1244.5,385.3 L1241.1,388.3 L1237.7,391.3 L1234.1,394.3 L1230.5,397.3 L1226.6,400.3 L1222.7,403.3 L1218.7,406.3 L1214.5,409.3 L1210.3,412.3 L1206.0,415.3 L1201.5,418.3 L1197.0,421.3 L1192.5,424.2 L1187.8,427.1 L1183.0,430.0 L1178.2,432.9 L1173.4,435.8 L1168.5,438.6 L1163.5,441.4 L1158.5,444.2 L1153.4,446.9 L1148.3,449.6 L1143.2,452.3 L1138.0,454.9 L1132.8,457.5Z"/>
  <path d="M1207.4,337.8 L1203.0,340.6 L1198.6,343.6 L1194.4,346.6 L1190.2,349.7 L1186.2,352.9 L1182.3,356.1 L1178.5,359.4 L1174.9,362.8 L1171.3,366.3 L1167.9,369.9 L1164.6,373.5 L1161.5,377.2 L1158.5,380.9 L1155.6,384.8 L1152.8,388.7 L1150.2,392.7 L1147.8,396.8 L1145.5,400.9 L1143.3,405.1 L1141.3,409.4 L1139.4,413.7 L1137.7,418.0 L1136.2,422.5 L1134.8,426.9 L1133.6,431.4 L1132.5,436.0 L1131.6,440.6 L1130.8,445.2 L1130.1,449.8 L1129.6,454.5 L1129.3,459.2 L1129.0,463.9 L1128.9,468.6 L1129.0,473.4 L1129.2,478.1 L1129.5,482.9 L1130.0,487.7 L1130.6,492.5 L1131.3,497.3 L1132.3,502.7 L1133.6,507.4 L1135.0,511.2 L1136.5,514.8 L1138.1,518.3 L1139.9,521.6 L1141.8,524.7 L1143.9,527.7 L1146.1,530.5 L1148.4,533.1 L1150.8,535.6 L1153.4,537.9 L1156.0,539.9 L1158.7,541.8 L1161.5,543.5 L1164.4,544.9 L1167.4,546.2 L1170.4,547.2 L1173.4,548.1 L1176.5,548.8 L1179.6,549.2 L1182.6,549.5 L1185.7,549.5 L1188.8,549.4 L1191.9,549.1 L1194.9,548.7 L1197.9,548.0 L1200.9,547.2 L1203.8,546.3 L1206.8,545.2 L1209.6,543.9 L1212.5,542.5 L1215.2,540.9 L1218.0,539.2 L1220.6,537.4 L1223.2,535.4 L1225.8,533.3 L1228.3,531.1 L1230.7,528.7 L1233.1,526.2 L1235.4,523.7 L1228.6,516.3 L1226.0,518.1 L1223.5,519.7 L1221.0,521.2 L1218.5,522.6 L1216.0,523.8 L1213.5,524.9 L1211.1,525.8 L1208.6,526.6 L1206.3,527.3 L1203.9,527.8 L1201.7,528.3 L1199.4,528.6 L1197.2,528.7 L1195.1,528.8 L1193.1,528.8 L1191.1,528.6 L1189.2,528.4 L1187.4,528.0 L1185.6,527.6 L1183.9,527.0 L1182.3,526.4 L1180.8,525.7 L1179.4,524.9 L1178.0,524.1 L1176.6,523.1 L1175.4,522.1 L1174.2,521.0 L1173.0,519.8 L1171.9,518.5 L1170.9,517.1 L1169.9,515.6 L1168.9,514.0 L1168.0,512.3 L1167.2,510.4 L1166.4,508.5 L1165.7,506.4 L1165.1,504.1 L1164.5,501.7 L1164.0,499.2 L1163.7,497.3 L1163.6,493.7 L1163.4,489.6 L1163.3,485.6 L1163.4,481.6 L1163.4,477.6 L1163.6,473.7 L1163.8,469.8 L1164.2,466.0 L1164.5,462.2 L1165.0,458.5 L1165.5,454.7 L1166.2,451.1 L1166.9,447.4 L1167.6,443.8 L1168.5,440.2 L1169.4,436.6 L1170.4,433.0 L1171.4,429.5 L1172.5,425.9 L1173.7,422.4 L1175.0,418.8 L1176.3,415.3 L1177.7,411.7 L1179.2,408.1 L1180.7,404.5 L1182.4,400.9 L1184.1,397.3 L1186.0,393.7 L1187.9,390.0 L1190.0,386.3 L1192.1,382.6 L1194.3,378.9 L1196.7,375.1 L1199.2,371.3 L1201.8,367.5 L1204.5,363.7 L1207.3,359.9 L1210.3,356.0 L1213.4,352.2 L1216.6,348.2Z"/>
  <path d="M1235.3,523.8 L1237.5,521.7 L1239.8,519.7 L1242.0,517.6 L1244.2,515.5 L1246.3,513.3 L1248.5,511.1 L1250.6,509.0 L1252.7,506.7 L1254.7,504.5 L1256.8,502.2 L1258.8,499.9 L1260.7,497.6 L1262.7,495.3 L1264.6,493.0 L1266.5,490.6 L1268.4,488.2 L1270.3,485.8 L1272.1,483.4 L1273.9,480.9 L1275.7,478.5 L1277.4,476.0 L1279.1,473.5 L1280.8,471.0 L1282.4,468.5 L1284.0,465.9 L1285.5,463.4 L1287.0,460.8 L1288.5,458.2 L1290.0,455.6 L1291.4,453.0 L1292.7,450.3 L1294.0,447.7 L1295.3,445.1 L1296.6,442.4 L1297.8,439.7 L1299.0,437.0 L1300.1,434.4 L1301.2,431.7 L1302.2,429.0 L1303.2,426.3 L1296.8,423.7 L1295.6,426.3 L1294.5,428.8 L1293.3,431.3 L1292.1,433.9 L1290.8,436.4 L1289.5,438.9 L1288.2,441.4 L1286.8,443.9 L1285.4,446.4 L1284.0,448.9 L1282.6,451.4 L1281.1,453.9 L1279.6,456.3 L1278.1,458.8 L1276.5,461.2 L1274.9,463.7 L1273.3,466.1 L1271.7,468.5 L1270.0,470.9 L1268.3,473.3 L1266.6,475.6 L1264.9,478.0 L1263.1,480.3 L1261.3,482.6 L1259.5,484.9 L1257.6,487.2 L1255.7,489.4 L1253.8,491.6 L1251.8,493.8 L1249.9,496.0 L1247.9,498.1 L1245.8,500.3 L1243.8,502.4 L1241.7,504.4 L1239.6,506.5 L1237.5,508.5 L1235.3,510.5 L1233.1,512.4 L1230.9,514.3 L1228.7,516.2Z"/>
  <path d="M86.5,791.7 L91.4,789.8 L96.4,787.9 L101.3,785.9 L106.2,783.8 L111.1,781.7 L116.0,779.6 L120.9,777.4 L125.7,775.2 L130.5,772.9 L135.3,770.6 L140.0,768.2 L144.7,765.9 L149.4,763.5 L154.0,761.0 L158.5,758.6 L163.0,756.1 L167.4,753.5 L171.7,751.0 L176.0,748.4 L180.2,745.8 L184.3,743.2 L188.3,740.6 L192.2,738.0 L196.1,735.3 L199.8,732.7 L203.5,730.0 L207.0,727.4 L210.5,724.7 L213.8,722.1 L217.1,719.4 L220.2,716.8 L223.2,714.1 L226.1,711.5 L228.9,708.9 L231.5,706.3 L234.1,703.7 L236.4,701.1 L238.7,698.5 L240.8,696.0 L243.1,692.9 L244.2,689.8 L244.9,687.6 L245.4,685.4 L245.6,683.2 L245.8,681.1 L245.7,678.9 L245.4,676.9 L245.0,674.9 L244.3,672.9 L243.5,671.1 L242.6,669.3 L241.5,667.7 L240.2,666.1 L238.8,664.7 L237.4,663.4 L235.8,662.2 L234.1,661.1 L232.3,660.1 L230.5,659.3 L228.6,658.5 L226.7,657.8 L224.6,657.2 L222.6,656.7 L220.5,656.3 L218.3,656.0 L216.1,655.8 L213.8,655.7 L211.5,655.6 L209.2,655.6 L206.8,655.7 L204.4,655.9 L202.0,656.2 L199.6,656.6 L197.1,657.0 L194.6,657.6 L192.2,658.2 L189.7,658.9 L187.2,659.7 L184.7,660.6 L182.3,661.5 L187.7,674.5 L189.8,673.5 L191.8,672.7 L193.9,672.0 L195.9,671.3 L198.0,670.7 L200.0,670.2 L202.0,669.8 L204.0,669.4 L205.9,669.1 L207.9,668.9 L209.8,668.7 L211.6,668.6 L213.4,668.6 L215.2,668.6 L216.9,668.8 L218.5,668.9 L220.1,669.2 L221.6,669.5 L223.0,669.8 L224.4,670.3 L225.6,670.7 L226.8,671.2 L227.9,671.8 L228.8,672.4 L229.7,673.0 L230.5,673.6 L231.2,674.3 L231.8,675.0 L232.3,675.7 L232.8,676.5 L233.1,677.3 L233.4,678.1 L233.7,679.0 L233.8,680.0 L233.9,681.1 L233.9,682.2 L233.7,683.5 L233.5,684.9 L233.1,686.3 L232.9,687.1 L231.6,688.9 L229.8,691.2 L227.8,693.6 L225.7,695.9 L223.4,698.4 L221.0,700.8 L218.5,703.3 L215.8,705.8 L212.9,708.4 L210.0,710.9 L206.9,713.5 L203.7,716.0 L200.4,718.6 L196.9,721.2 L193.4,723.7 L189.8,726.3 L186.1,728.9 L182.2,731.5 L178.3,734.1 L174.3,736.7 L170.3,739.2 L166.1,741.8 L161.9,744.4 L157.7,746.9 L153.3,749.5 L148.9,752.0 L144.5,754.5 L140.0,757.0 L135.5,759.4 L130.9,761.8 L126.3,764.3 L121.6,766.6 L116.9,769.0 L112.2,771.3 L107.4,773.6 L102.7,775.8 L97.9,778.0 L93.1,780.1 L88.3,782.2 L83.5,784.3Z"/>
  <path d="M181.4,662.0 L176.9,663.9 L172.3,666.0 L167.7,668.2 L163.2,670.5 L158.7,672.9 L154.3,675.4 L149.9,678.1 L145.5,680.8 L141.2,683.7 L137.0,686.7 L132.9,689.8 L128.8,693.0 L124.8,696.3 L120.9,699.7 L117.1,703.2 L113.4,706.8 L109.8,710.5 L106.3,714.3 L102.9,718.2 L99.7,722.2 L96.5,726.2 L93.5,730.3 L90.7,734.5 L87.9,738.7 L85.4,743.0 L82.9,747.3 L80.6,751.7 L78.4,756.1 L76.4,760.6 L74.5,765.0 L72.7,769.5 L71.1,774.1 L69.6,778.6 L68.3,783.2 L67.2,787.7 L66.2,792.3 L65.4,796.8 L64.8,801.4 L64.3,805.9 L64.0,810.6 L64.0,814.7 L64.2,818.5 L64.7,822.2 L65.4,825.8 L66.3,829.4 L67.5,832.8 L68.9,836.0 L70.6,839.1 L72.5,842.1 L74.6,844.8 L76.8,847.4 L79.3,849.7 L81.9,851.9 L84.6,853.8 L87.4,855.5 L90.4,857.0 L93.4,858.3 L96.5,859.4 L99.6,860.3 L102.9,861.0 L106.1,861.6 L109.5,862.0 L112.8,862.2 L116.2,862.3 L119.7,862.2 L123.1,861.9 L126.7,861.6 L130.2,861.0 L133.8,860.4 L137.3,859.6 L141.0,858.7 L144.6,857.6 L148.2,856.4 L151.9,855.1 L155.6,853.7 L159.3,852.1 L163.0,850.4 L166.6,848.6 L170.3,846.6 L174.0,844.6 L170.0,835.4 L166.2,836.5 L162.4,837.5 L158.7,838.4 L155.1,839.2 L151.5,839.8 L148.1,840.4 L144.6,840.8 L141.3,841.1 L138.0,841.3 L134.9,841.5 L131.8,841.5 L128.8,841.4 L126.0,841.2 L123.2,840.9 L120.6,840.5 L118.1,840.1 L115.7,839.5 L113.5,838.9 L111.4,838.2 L109.4,837.5 L107.6,836.7 L105.9,835.8 L104.4,834.9 L103.0,834.0 L101.8,833.0 L100.7,832.0 L99.8,831.0 L98.9,830.0 L98.2,828.9 L97.6,827.9 L97.1,826.8 L96.6,825.6 L96.3,824.4 L96.0,823.2 L95.8,821.8 L95.6,820.4 L95.6,818.8 L95.6,817.1 L95.8,815.2 L96.0,813.4 L96.6,810.2 L97.3,806.9 L98.2,803.5 L99.1,800.1 L100.2,796.7 L101.4,793.2 L102.6,789.7 L104.0,786.2 L105.5,782.6 L107.1,779.1 L108.8,775.5 L110.6,771.9 L112.5,768.3 L114.4,764.7 L116.5,761.1 L118.6,757.4 L120.8,753.8 L123.1,750.2 L125.4,746.5 L127.8,742.8 L130.3,739.2 L132.8,735.5 L135.4,731.9 L138.0,728.2 L140.7,724.6 L143.5,721.0 L146.3,717.4 L149.2,713.8 L152.2,710.2 L155.2,706.7 L158.2,703.2 L161.3,699.7 L164.5,696.3 L167.8,692.9 L171.1,689.6 L174.4,686.3 L177.9,683.2 L181.4,680.0 L184.9,677.0 L188.6,674.0Z"/>
  <path d="M174.5,844.3 L176.3,843.2 L178.2,842.1 L180.1,840.9 L182.0,839.7 L183.8,838.6 L185.7,837.3 L187.5,836.1 L189.3,834.9 L191.1,833.6 L192.9,832.3 L194.7,831.1 L196.5,829.8 L198.2,828.5 L200.0,827.2 L201.7,825.9 L203.5,824.6 L205.2,823.2 L206.9,821.9 L208.5,820.6 L210.2,819.3 L211.8,817.9 L213.5,816.6 L215.1,815.3 L216.7,813.9 L218.2,812.6 L219.8,811.2 L221.3,809.9 L222.8,808.6 L224.3,807.3 L225.8,805.9 L227.2,804.6 L228.7,803.3 L230.1,802.0 L231.4,800.7 L232.8,799.4 L234.1,798.2 L235.4,796.9 L236.7,795.6 L238.0,794.4 L239.2,793.2 L232.8,786.8 L231.6,788.0 L230.4,789.2 L229.1,790.4 L227.9,791.7 L226.6,792.9 L225.3,794.2 L223.9,795.4 L222.5,796.7 L221.2,798.0 L219.7,799.3 L218.3,800.5 L216.9,801.8 L215.4,803.1 L213.9,804.4 L212.4,805.7 L210.9,807.0 L209.3,808.3 L207.7,809.6 L206.2,810.9 L204.6,812.2 L202.9,813.5 L201.3,814.8 L199.7,816.1 L198.0,817.4 L196.3,818.6 L194.6,819.9 L192.9,821.1 L191.2,822.3 L189.4,823.5 L187.7,824.7 L185.9,825.9 L184.1,827.1 L182.3,828.2 L180.5,829.3 L178.7,830.4 L176.9,831.5 L175.1,832.6 L173.2,833.6 L171.4,834.6 L169.5,835.7Z"/>
  <path d="M296.2,658.3 L293.9,663.3 L291.6,668.3 L289.3,673.2 L287.0,678.1 L284.7,682.9 L282.5,687.8 L280.2,692.6 L278.0,697.4 L275.8,702.2 L273.6,707.0 L271.5,711.8 L269.4,716.5 L267.4,721.3 L265.4,726.1 L263.5,730.9 L261.7,735.7 L259.8,740.5 L258.1,745.3 L256.4,750.1 L254.6,755.0 L252.9,759.8 L251.3,764.6 L249.6,769.4 L248.0,774.2 L246.4,779.1 L244.8,783.9 L243.2,788.7 L241.7,793.6 L240.2,798.4 L238.7,803.2 L237.2,808.1 L235.7,812.9 L234.3,817.8 L232.8,822.7 L231.4,827.5 L230.0,832.4 L228.6,837.3 L227.3,842.1 L225.9,847.0 L224.5,851.9 L241.5,858.1 L243.6,853.5 L245.7,849.0 L247.8,844.4 L250.0,839.8 L252.1,835.3 L254.2,830.7 L256.3,826.1 L258.5,821.6 L260.6,817.0 L262.7,812.4 L264.8,807.7 L266.8,803.1 L268.9,798.4 L270.9,793.8 L272.9,789.1 L274.9,784.4 L276.9,779.6 L278.8,774.9 L280.7,770.1 L282.6,765.3 L284.5,760.5 L286.3,755.6 L288.0,750.7 L289.7,745.8 L291.4,740.8 L292.9,735.8 L294.4,730.7 L295.8,725.6 L297.1,720.5 L298.4,715.3 L299.6,710.1 L300.7,704.8 L301.8,699.6 L302.8,694.2 L303.7,688.9 L304.6,683.5 L305.5,678.1 L306.3,672.6 L307.0,667.1 L307.8,661.7Z"/>
  <path d="M263.6,767.7 L266.6,763.8 L269.7,760.0 L272.8,756.1 L276.0,752.3 L279.1,748.6 L282.3,744.8 L285.6,741.2 L288.8,737.5 L292.0,733.9 L295.3,730.4 L298.6,726.9 L301.8,723.5 L305.1,720.1 L308.4,716.8 L311.7,713.6 L315.0,710.5 L318.3,707.4 L321.5,704.4 L324.8,701.5 L328.1,698.6 L331.3,695.9 L334.5,693.2 L337.8,690.7 L340.9,688.2 L344.1,685.9 L347.2,683.7 L350.4,681.5 L353.4,679.5 L356.5,677.6 L359.5,675.9 L362.5,674.3 L365.4,672.8 L368.3,671.4 L371.1,670.2 L373.9,669.1 L376.6,668.2 L379.3,667.4 L381.9,666.7 L384.4,666.2 L386.8,665.8 L387.7,665.8 L388.8,665.8 L389.8,665.9 L390.7,666.0 L391.5,666.2 L392.3,666.4 L393.0,666.7 L393.7,667.0 L394.4,667.3 L395.0,667.7 L395.5,668.2 L396.1,668.7 L396.6,669.2 L397.1,669.8 L397.5,670.5 L398.0,671.2 L398.4,672.0 L398.8,672.9 L399.2,673.8 L399.5,674.8 L399.9,675.9 L400.1,677.0 L400.4,678.2 L400.6,679.4 L400.7,680.7 L400.8,682.1 L400.9,683.5 L400.9,685.0 L400.9,686.6 L400.8,688.1 L400.7,689.8 L400.5,691.4 L400.3,693.1 L400.0,694.9 L399.7,696.7 L399.3,698.5 L398.9,700.3 L398.4,702.2 L397.8,704.1 L397.3,706.1 L410.7,709.9 L411.3,707.7 L411.8,705.5 L412.3,703.3 L412.7,701.1 L413.0,699.0 L413.3,696.8 L413.6,694.8 L413.8,692.7 L413.9,690.7 L414.0,688.7 L414.0,686.7 L413.9,684.8 L413.8,682.9 L413.7,681.0 L413.5,679.2 L413.2,677.4 L412.9,675.7 L412.5,674.0 L412.0,672.3 L411.5,670.7 L410.8,669.1 L410.2,667.6 L409.4,666.1 L408.6,664.7 L407.6,663.4 L406.6,662.1 L405.6,660.9 L404.4,659.7 L403.1,658.7 L401.8,657.7 L400.4,656.8 L398.9,656.1 L397.4,655.4 L395.8,654.9 L394.2,654.5 L392.5,654.2 L390.8,654.0 L389.0,654.0 L387.2,654.0 L385.2,654.2 L382.2,654.7 L379.1,655.4 L376.1,656.3 L373.0,657.3 L369.9,658.4 L366.7,659.7 L363.6,661.2 L360.4,662.7 L357.2,664.4 L354.0,666.2 L350.7,668.2 L347.5,670.2 L344.2,672.4 L340.9,674.6 L337.6,677.0 L334.3,679.5 L331.0,682.0 L327.6,684.7 L324.3,687.5 L320.9,690.4 L317.6,693.3 L314.2,696.4 L310.9,699.5 L307.5,702.7 L304.2,706.0 L300.9,709.4 L297.6,712.8 L294.3,716.3 L291.0,719.9 L287.7,723.5 L284.5,727.2 L281.2,730.9 L278.0,734.7 L274.8,738.5 L271.7,742.4 L268.6,746.3 L265.5,750.3 L262.4,754.2 L259.4,758.3 L256.4,762.3Z"/>
  <path d="M397.3,704.0 L395.2,707.7 L393.2,711.3 L391.0,714.9 L388.8,718.5 L386.6,722.0 L384.4,725.5 L382.2,729.1 L380.0,732.6 L377.8,736.1 L375.7,739.6 L373.5,743.1 L371.4,746.6 L369.4,750.1 L367.4,753.6 L365.5,757.1 L363.6,760.6 L361.8,764.1 L360.0,767.7 L358.3,771.2 L356.7,774.7 L355.1,778.2 L353.5,781.6 L352.0,785.1 L350.6,788.5 L349.2,791.9 L347.8,795.3 L346.6,798.7 L345.4,802.0 L344.3,805.3 L343.2,808.6 L342.3,811.8 L341.4,815.0 L340.6,818.2 L340.0,821.4 L339.4,824.5 L338.9,827.7 L338.6,830.8 L338.4,833.9 L338.4,836.9 L338.6,840.5 L339.1,843.7 L339.7,846.1 L340.5,848.5 L341.6,850.8 L342.8,853.0 L344.3,855.1 L346.0,857.1 L348.0,858.8 L350.1,860.3 L352.4,861.5 L354.7,862.3 L357.1,862.9 L359.5,863.2 L361.8,863.3 L364.0,863.1 L366.2,862.8 L368.3,862.3 L370.4,861.6 L372.3,860.8 L374.3,859.8 L376.2,858.8 L378.0,857.6 L379.9,856.4 L381.6,855.0 L383.4,853.5 L385.1,851.9 L386.8,850.3 L388.5,848.5 L390.1,846.6 L391.7,844.7 L393.3,842.6 L394.9,840.5 L396.4,838.3 L397.9,835.9 L399.3,833.5 L400.7,831.1 L402.1,828.5 L403.4,825.8 L404.7,823.1 L405.9,820.3 L398.1,815.7 L396.3,817.9 L394.5,820.0 L392.7,822.0 L390.9,823.9 L389.1,825.7 L387.3,827.4 L385.5,828.9 L383.8,830.4 L382.0,831.8 L380.3,833.1 L378.7,834.2 L377.0,835.3 L375.4,836.3 L373.9,837.1 L372.4,837.9 L371.0,838.6 L369.7,839.1 L368.4,839.6 L367.3,839.9 L366.2,840.2 L365.3,840.3 L364.4,840.4 L363.7,840.4 L363.2,840.3 L362.8,840.2 L362.6,840.1 L362.6,839.9 L362.7,839.8 L363.0,839.8 L363.3,839.8 L363.7,839.9 L364.1,840.1 L364.5,840.2 L364.8,840.4 L365.0,840.5 L365.1,840.5 L365.2,840.3 L365.3,840.0 L365.3,839.5 L365.4,839.5 L365.7,838.5 L366.1,836.8 L366.5,835.1 L367.1,833.2 L367.8,831.2 L368.5,829.0 L369.4,826.8 L370.3,824.4 L371.4,822.0 L372.5,819.4 L373.7,816.8 L375.0,814.1 L376.4,811.3 L377.8,808.4 L379.3,805.4 L380.8,802.3 L382.4,799.2 L384.0,796.0 L385.6,792.7 L387.3,789.3 L389.0,785.9 L390.7,782.4 L392.3,778.8 L394.0,775.1 L395.6,771.4 L397.1,767.5 L398.6,763.6 L400.0,759.6 L401.3,755.6 L402.6,751.4 L403.8,747.2 L404.9,743.0 L405.9,738.7 L406.8,734.4 L407.7,730.0 L408.5,725.7 L409.2,721.3 L409.8,716.8 L410.3,712.4 L410.7,708.0Z"/>
  <path d="M405.9,820.2 L407.0,818.3 L408.0,816.4 L409.1,814.5 L410.1,812.6 L411.2,810.7 L412.2,808.8 L413.3,806.9 L414.3,804.9 L415.4,803.0 L416.4,801.1 L417.5,799.1 L418.5,797.2 L419.6,795.2 L420.6,793.2 L421.6,791.3 L422.7,789.3 L423.7,787.4 L424.7,785.4 L425.7,783.4 L426.8,781.4 L427.8,779.5 L428.8,777.5 L429.8,775.5 L430.7,773.5 L431.7,771.5 L432.7,769.5 L433.6,767.5 L434.6,765.5 L435.5,763.5 L436.4,761.5 L437.3,759.5 L438.3,757.5 L439.1,755.5 L440.0,753.5 L440.9,751.5 L441.8,749.5 L442.6,747.5 L443.5,745.5 L444.3,743.5 L445.2,741.5 L438.8,738.5 L437.9,740.4 L436.9,742.4 L435.9,744.3 L434.9,746.2 L433.9,748.1 L432.9,750.1 L431.9,752.0 L430.9,753.9 L429.9,755.9 L428.9,757.8 L427.9,759.7 L426.9,761.7 L425.8,763.6 L424.8,765.6 L423.8,767.5 L422.8,769.5 L421.8,771.4 L420.8,773.4 L419.8,775.4 L418.7,777.3 L417.7,779.3 L416.7,781.2 L415.7,783.2 L414.7,785.1 L413.7,787.1 L412.6,789.0 L411.6,791.0 L410.6,792.9 L409.5,794.9 L408.5,796.8 L407.5,798.7 L406.4,800.6 L405.4,802.6 L404.3,804.5 L403.3,806.4 L402.3,808.3 L401.2,810.2 L400.2,812.1 L399.1,813.9 L398.1,815.8Z"/>
  <circle cx="955" cy="287" r="19"/>
 </g>
</svg>
<div class="t" style="left:90px;top:180px;font-size:55.5px;transform-origin:0 0;transform:scaleX(0.925);font-family:'Liberation Sans',sans-serif;font-weight:700;color:#9a7cba;-webkit-text-stroke:1px #eadbf2;">PRATIQUE</div>

<!-- ribbon -->
<svg style="position:absolute;left:470px;top:305px" width="475" height="145" viewBox="470 305 475 145">
  <defs>
    <filter id="fab" x="0" y="0" width="100%" height="100%">
      <feTurbulence type="fractalNoise" baseFrequency="0.9 0.35" numOctaves="2" seed="3" result="n"/>
      <feColorMatrix in="n" type="matrix" values="0 0 0 0 1  0 0 0 0 1  0 0 0 0 1  0 0 0 -1.6 1.0" result="w"/>
      <feComposite in="w" in2="SourceGraphic" operator="in"/>
    </filter>
  </defs>
  <path d="M475.5,311 L938,311 L938.5,360 L939.5,400 L939,445 L475,445 L476,400 L475,360 Z" fill="#b597cd"/>
  <path d="M475.5,311 L938,311 L938.5,360 L939.5,400 L939,445 L475,445 L476,400 L475,360 Z" fill="#000" filter="url(#fab)" opacity="0.22"/>
  <g stroke="#e6dcef" stroke-width="2" stroke-dasharray="7 5.6" fill="none" opacity="0.85">
    <path d="M484,318.5 V441"/>
    <path d="M930,318.5 V441"/>
    <path d="M486,443.4 H929"/>
  </g>
</svg>
<div class="t" style="left:570.5px;top:353.7px;font-size:37px;transform-origin:0 0;transform:scaleX(0.928);font-weight:700;">PLAN D’ACTION</div>

<div class="t" style="left:351px;top:460px;font-size:38.5px;letter-spacing:0.1px;font-weight:700;">Objectif : Clarifier les étapes pour avancer.</div>

<div class="t body40" style="left:175.5px;top:570px;letter-spacing:0.2px;">Objectif :</div>
<!-- grids -->
<svg style="position:absolute;left:0;top:0" width="1414" height="1200" viewBox="0 0 1414 1200">
  <defs>
    <filter id="paper" x="0" y="0" width="100%" height="100%">
      <feTurbulence type="fractalNoise" baseFrequency="0.03 0.05" numOctaves="4" seed="7" result="n"/>
      <feColorMatrix in="n" type="matrix" values="0 0 0 0 1  0 0 0 0 1  0 0 0 0 1  0 0 0 -2.6 1.55" result="w"/>
      <feComposite in="w" in2="SourceGraphic" operator="in"/>
    </filter>
    <filter id="crease" x="0" y="0" width="100%" height="100%">
      <feTurbulence type="turbulence" baseFrequency="0.018 0.03" numOctaves="3" seed="11" result="n"/>
      <feColorMatrix in="n" type="matrix" values="0 0 0 0 0.45  0 0 0 0 0.47  0 0 0 0 0.45  -14 0 0 0 1" result="w"/>
      <feComposite in="w" in2="SourceGraphic" operator="in"/>
    </filter>
  </defs>
  <rect x="385.3" y="567.2" width="904.7" height="166.9" fill="#ebebea"/>
  <rect x="385.3" y="567.2" width="904.7" height="166.9" filter="url(#paper)" opacity="0.5"/>
  <rect x="385.3" y="567.2" width="904.7" height="166.9" filter="url(#crease)" opacity="0.35"/>
  <path d="M399.8,567.2 V734.1 M433.4,567.2 V734.1 M467.0,567.2 V734.1 M500.6,567.2 V734.1 M534.2,567.2 V734.1 M567.8,567.2 V734.1 M601.3,567.2 V734.1 M634.9,567.2 V734.1 M668.5,567.2 V734.1 M702.1,567.2 V734.1 M735.7,567.2 V734.1 M769.3,567.2 V734.1 M802.9,567.2 V734.1 M836.5,567.2 V734.1 M870.1,567.2 V734.1 M903.7,567.2 V734.1 M937.2,567.2 V734.1 M970.8,567.2 V734.1 M1004.4,567.2 V734.1 M1038.0,567.2 V734.1 M1071.6,567.2 V734.1 M1105.2,567.2 V734.1 M1138.8,567.2 V734.1 M1172.4,567.2 V734.1 M1206.0,567.2 V734.1 M1239.5,567.2 V734.1 M1273.1,567.2 V734.1 M385.3,575.1 H1290.0 M385.3,607.8 H1290.0 M385.3,640.4 H1290.0 M385.3,673.0 H1290.0 M385.3,705.7 H1290.0" stroke="#5e985e" stroke-opacity="0.6" stroke-width="1.25" fill="none"/>
  <rect x="385.3" y="875.8" width="904.7" height="248.8" fill="#ebebea"/>
  <rect x="385.3" y="875.8" width="904.7" height="248.8" filter="url(#paper)" opacity="0.5"/>
  <rect x="385.3" y="875.8" width="904.7" height="248.8" filter="url(#crease)" opacity="0.35"/>
  <path d="M399.8,875.8 V1124.6 M433.4,875.8 V1124.6 M467.0,875.8 V1124.6 M500.6,875.8 V1124.6 M534.2,875.8 V1124.6 M567.8,875.8 V1124.6 M601.3,875.8 V1124.6 M634.9,875.8 V1124.6 M668.5,875.8 V1124.6 M702.1,875.8 V1124.6 M735.7,875.8 V1124.6 M769.3,875.8 V1124.6 M802.9,875.8 V1124.6 M836.5,875.8 V1124.6 M870.1,875.8 V1124.6 M903.7,875.8 V1124.6 M937.2,875.8 V1124.6 M970.8,875.8 V1124.6 M1004.4,875.8 V1124.6 M1038.0,875.8 V1124.6 M1071.6,875.8 V1124.6 M1105.2,875.8 V1124.6 M1138.8,875.8 V1124.6 M1172.4,875.8 V1124.6 M1206.0,875.8 V1124.6 M1239.5,875.8 V1124.6 M1273.1,875.8 V1124.6 M385.3,897.1 H1290.0 M385.3,929.6 H1290.0 M385.3,962.0 H1290.0 M385.3,994.5 H1290.0 M385.3,1027.0 H1290.0 M385.3,1059.5 H1290.0 M385.3,1091.9 H1290.0 M385.3,1124.4 H1290.0" stroke="#5e985e" stroke-opacity="0.6" stroke-width="1.25" fill="none"/>
</svg>

<div class="t body40" style="left:175.5px;top:800px;letter-spacing:0.94px;">Pourquoi c’est important :</div>

<div class="t body40" style="left:176.5px;top:1122px;letter-spacing:0.83px;">Étapes :</div>

<!-- steps -->
<svg style="position:absolute;left:0;top:0" width="1414" height="2000" viewBox="0 0 1414 2000">
  <defs>
    <g id="cloud">
      <circle cx="41.5" cy="41.5" r="41.5"/><circle cx="94" cy="41.5" r="41.5"/><circle cx="146.5" cy="41.5" r="41.5"/>
      <circle cx="41.5" cy="90.5" r="41.5"/><circle cx="94" cy="90.5" r="41.5"/><circle cx="146.5" cy="90.5" r="41.5"/>
      <rect x="20" y="30" width="148" height="72"/>
    </g>
    <g id="arrow" fill="none" stroke-width="19.5" stroke-linecap="round" stroke-linejoin="round">
      <path d="M0,65 L82,65"/>
      <path d="M65.3,38.5 L82.3,65 L65.3,91.5"/>
    </g>
  </defs>
  <g fill="#aa8fd8"><use href="#cloud" x="177" y="1196"/></g>
  <g stroke="#aa8fd8"><use href="#arrow" x="365" y="1196"/></g>
  <g fill="#f2979f"><use href="#cloud" x="458" y="1196"/></g>
  <g stroke="#f2979f"><use href="#arrow" x="646" y="1196"/></g>
  <g fill="#f7e4d3"><use href="#cloud" x="739" y="1196"/></g>
  <g stroke="#f7e4d3"><use href="#arrow" x="927" y="1196"/></g>
  <g fill="#b798c6"><use href="#cloud" x="1020" y="1196"/></g>
  <clipPath id="clipA"><rect x="0" y="0" width="1299" height="2000"/></clipPath>
  <g stroke="#b798c6" clip-path="url(#clipA)"><use href="#arrow" x="1208" y="1196"/></g>
</svg>

<div class="t body40" style="left:175.5px;top:1400.5px;letter-spacing:0.53px;">Obstacles possibles :</div>
<div class="t body40" style="left:176.5px;top:1492.5px;letter-spacing:0.33px;">Aides disponibles :</div>
<div class="t body40" style="left:176px;top:1538.5px;letter-spacing:0.45px;">Date de début :</div>
<div class="t body40" style="left:176px;top:1584.5px;letter-spacing:0.68px;">Évaluation :</div>
<div class="t body40" style="left:274px;top:1630.5px;letter-spacing:0.33px;">Ce qui a fonctionné</div>
<div class="t body40" style="left:981px;top:1631.5px;letter-spacing:0.67px;">À ajuster.</div>

<!-- note cards -->
<svg style="position:absolute;left:0;top:0" width="1414" height="2000" viewBox="0 0 1414 2000">
  <defs>
    <g id="card" stroke="#000" stroke-width="1.9" stroke-linejoin="round">
      <path d="M177.7,1712.4 L440,1708 L649.1,1703.9 L664.6,1944 L196,1969.4 Z" fill="#a98ed8"/>
      <path d="M182.8,1700.6 L470,1709 C495,1711 510,1713 530,1713.5 L652.8,1714.2 L657.6,1948.5 C560,1950 500,1953 430,1953 C330,1953 260,1951 190.5,1952.1 C188,1850 186,1760 182.8,1700.6 Z" fill="#fff"/>
      <path d="M199,1697 Q199,1694.5 203,1694.2 L222,1693.8 Q226,1694 226.2,1698 L228,1730.7 L214.4,1718.6 L201.5,1733.3 Z" fill="#a98ed8"/>
    </g>
  </defs>
  <use href="#card"/>
  <use href="#card" x="661"/>
</svg>

<div class="t" style="left:1269.5px;top:1860.6px;font-size:30px;font-family:'Liberation Sans',sans-serif;color:#4d2270;-webkit-text-stroke:0.25px #fff;">26</div>

<!-- vertical date -->
<div class="t" style="left:42.2px;top:1971px;transform-origin:0 0;transform:rotate(-90deg);font-size:32px;font-weight:400;font-style:italic;color:#8765a8;-webkit-text-stroke:0.5px #8765a8;">Date: <span style="letter-spacing:-0.32px;margin-left:-2.8px">...................................</span></div>

</body>
</html>
